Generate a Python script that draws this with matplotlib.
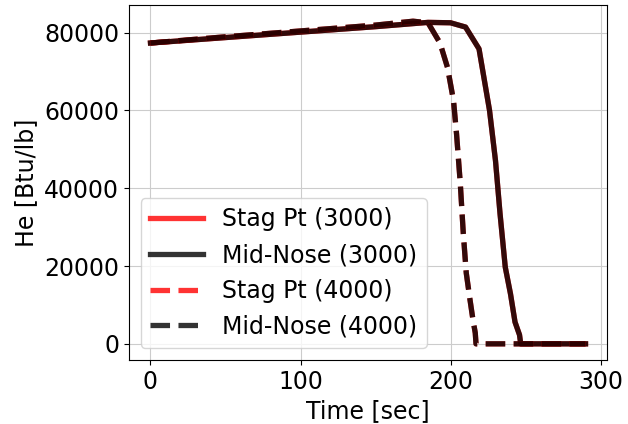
import numpy as np
import matplotlib
matplotlib.use("Agg")
import matplotlib.pyplot as plt

# stagnation enthalpy histories, two entry cases
t_3000 = [0, 50, 100, 150, 185, 200, 210, 219, 226, 230, 233, 236.5, 240, 243, 246, 246.8, 290]
he_3000 = [77300, 78700, 80100, 81500, 82600, 82500, 81400, 75800, 60000, 47000, 33500,
           19700, 12800, 5600, 2300, 0, 0]

t_4000 = [0, 50, 100, 150, 175, 185, 193, 198, 202, 204, 206.5, 208.5, 210.5, 213, 215,
          216.5, 217, 290]
he_4000 = [77300, 78900, 80400, 81900, 82900, 82500, 77300, 71000, 62500, 54000, 41300,
           28500, 18200, 11300, 6100, 2800, 0, 0]

plt.rcParams['font.size'] = 17

fig, ax = plt.subplots(figsize=(6.28, 4.24), dpi=100)
fig.subplots_adjust(left=0.205, right=0.967, top=0.988, bottom=0.151)

lw = 3.8
ax.plot(t_3000, he_3000, '-', color='r', alpha=0.8, lw=lw, label='Stag Pt (3000)')
ax.plot(t_3000, he_3000, '-', color='k', alpha=0.8, lw=lw, label='Mid-Nose (3000)')
ax.plot(t_4000, he_4000, '--', color='r', alpha=0.8, lw=lw, label='Stag Pt (4000)')
ax.plot(t_4000, he_4000, '--', color='k', alpha=0.8, lw=lw, label='Mid-Nose (4000)')

ax.set_xlabel('Time [sec]')
ax.set_ylabel('He [Btu/lb]')
ax.set_xticks([0, 100, 200, 300])
ax.grid(True, color='#cccccc')
ax.legend(loc='lower left', handlelength=2.25)

fig.savefig('out.png', dpi=100)
